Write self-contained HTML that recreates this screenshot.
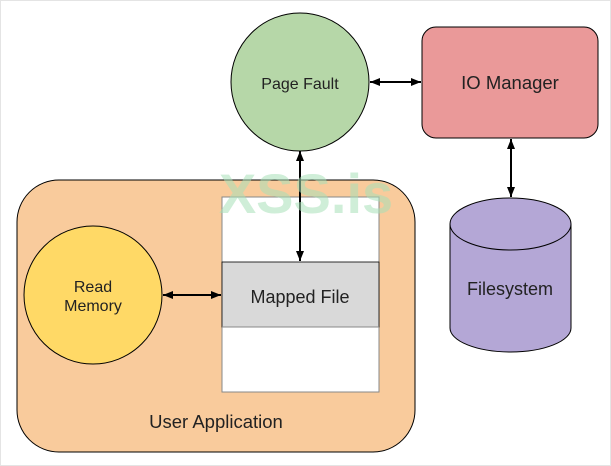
<!DOCTYPE html>
<html><head><style>
html,body{margin:0;padding:0;background:#fff;width:611px;height:466px;overflow:hidden}
</style></head><body>
<svg width="611" height="466" viewBox="0 0 611 466" xmlns="http://www.w3.org/2000/svg" font-family="Liberation Sans, Arial, sans-serif">
<defs>
<marker id="a" viewBox="0 0 10 10" refX="10" refY="5" markerWidth="10" markerHeight="10" markerUnits="userSpaceOnUse" orient="auto-start-reverse"><path d="M0,1 L10,5 L0,9 z" fill="#000"/></marker>
</defs>
<rect x="0.5" y="0.5" width="610" height="465" fill="#fff" stroke="#e4e4e4"/>
<rect x="17" y="180" width="398" height="272" rx="42" fill="#f9cb9c" stroke="#000" stroke-width="1"/>
<rect x="222" y="197" width="157" height="195" fill="#fff" stroke="#888"/>
<rect x="222" y="262" width="157" height="65" fill="#d9d9d9" stroke="#000" stroke-width="0.8"/>
<line x1="222" y1="327" x2="379" y2="327" stroke="#888"/>
<text x="300" y="303" font-size="18" text-anchor="middle" fill="#222">Mapped File</text>
<circle cx="93" cy="295" r="69" fill="#ffd966" stroke="#000"/>
<text x="93" y="292" font-size="16" text-anchor="middle" fill="#222">Read</text>
<text x="93" y="311" font-size="16" text-anchor="middle" fill="#222">Memory</text>
<text x="216" y="428" font-size="18.5" text-anchor="middle" fill="#222">User Application</text>
<circle cx="300" cy="82" r="69" fill="#b6d7a8" stroke="#000"/>
<text x="300" y="89" font-size="16" text-anchor="middle" fill="#222">Page Fault</text>
<rect x="422" y="27" width="176" height="111" rx="14" fill="#ea9999" stroke="#000"/>
<text x="510" y="89" font-size="18.5" text-anchor="middle" fill="#222">IO Manager</text>
<path d="M450,224 L450,328 A60.5,24 0 0 0 571,328 L571,224" fill="#b4a7d6" stroke="#000"/>
<ellipse cx="510.5" cy="224" rx="60.5" ry="26" fill="#b4a7d6" stroke="#000"/>
<text x="510" y="295" font-size="18" text-anchor="middle" fill="#222">Filesystem</text>
<line x1="370" y1="82" x2="421" y2="82" stroke="#000" stroke-width="2" marker-start="url(#a)" marker-end="url(#a)"/>
<line x1="511" y1="139" x2="511" y2="197" stroke="#000" stroke-width="2" marker-start="url(#a)" marker-end="url(#a)"/>
<line x1="300" y1="151" x2="300" y2="261" stroke="#000" stroke-width="2" marker-start="url(#a)" marker-end="url(#a)"/>
<line x1="163" y1="295" x2="221" y2="295" stroke="#000" stroke-width="2" marker-start="url(#a)" marker-end="url(#a)"/>
<text x="306" y="213" font-size="56" font-weight="bold" text-anchor="middle" fill="#a8e0b8" fill-opacity="0.55">XSS.is</text>
</svg>
</body></html>
